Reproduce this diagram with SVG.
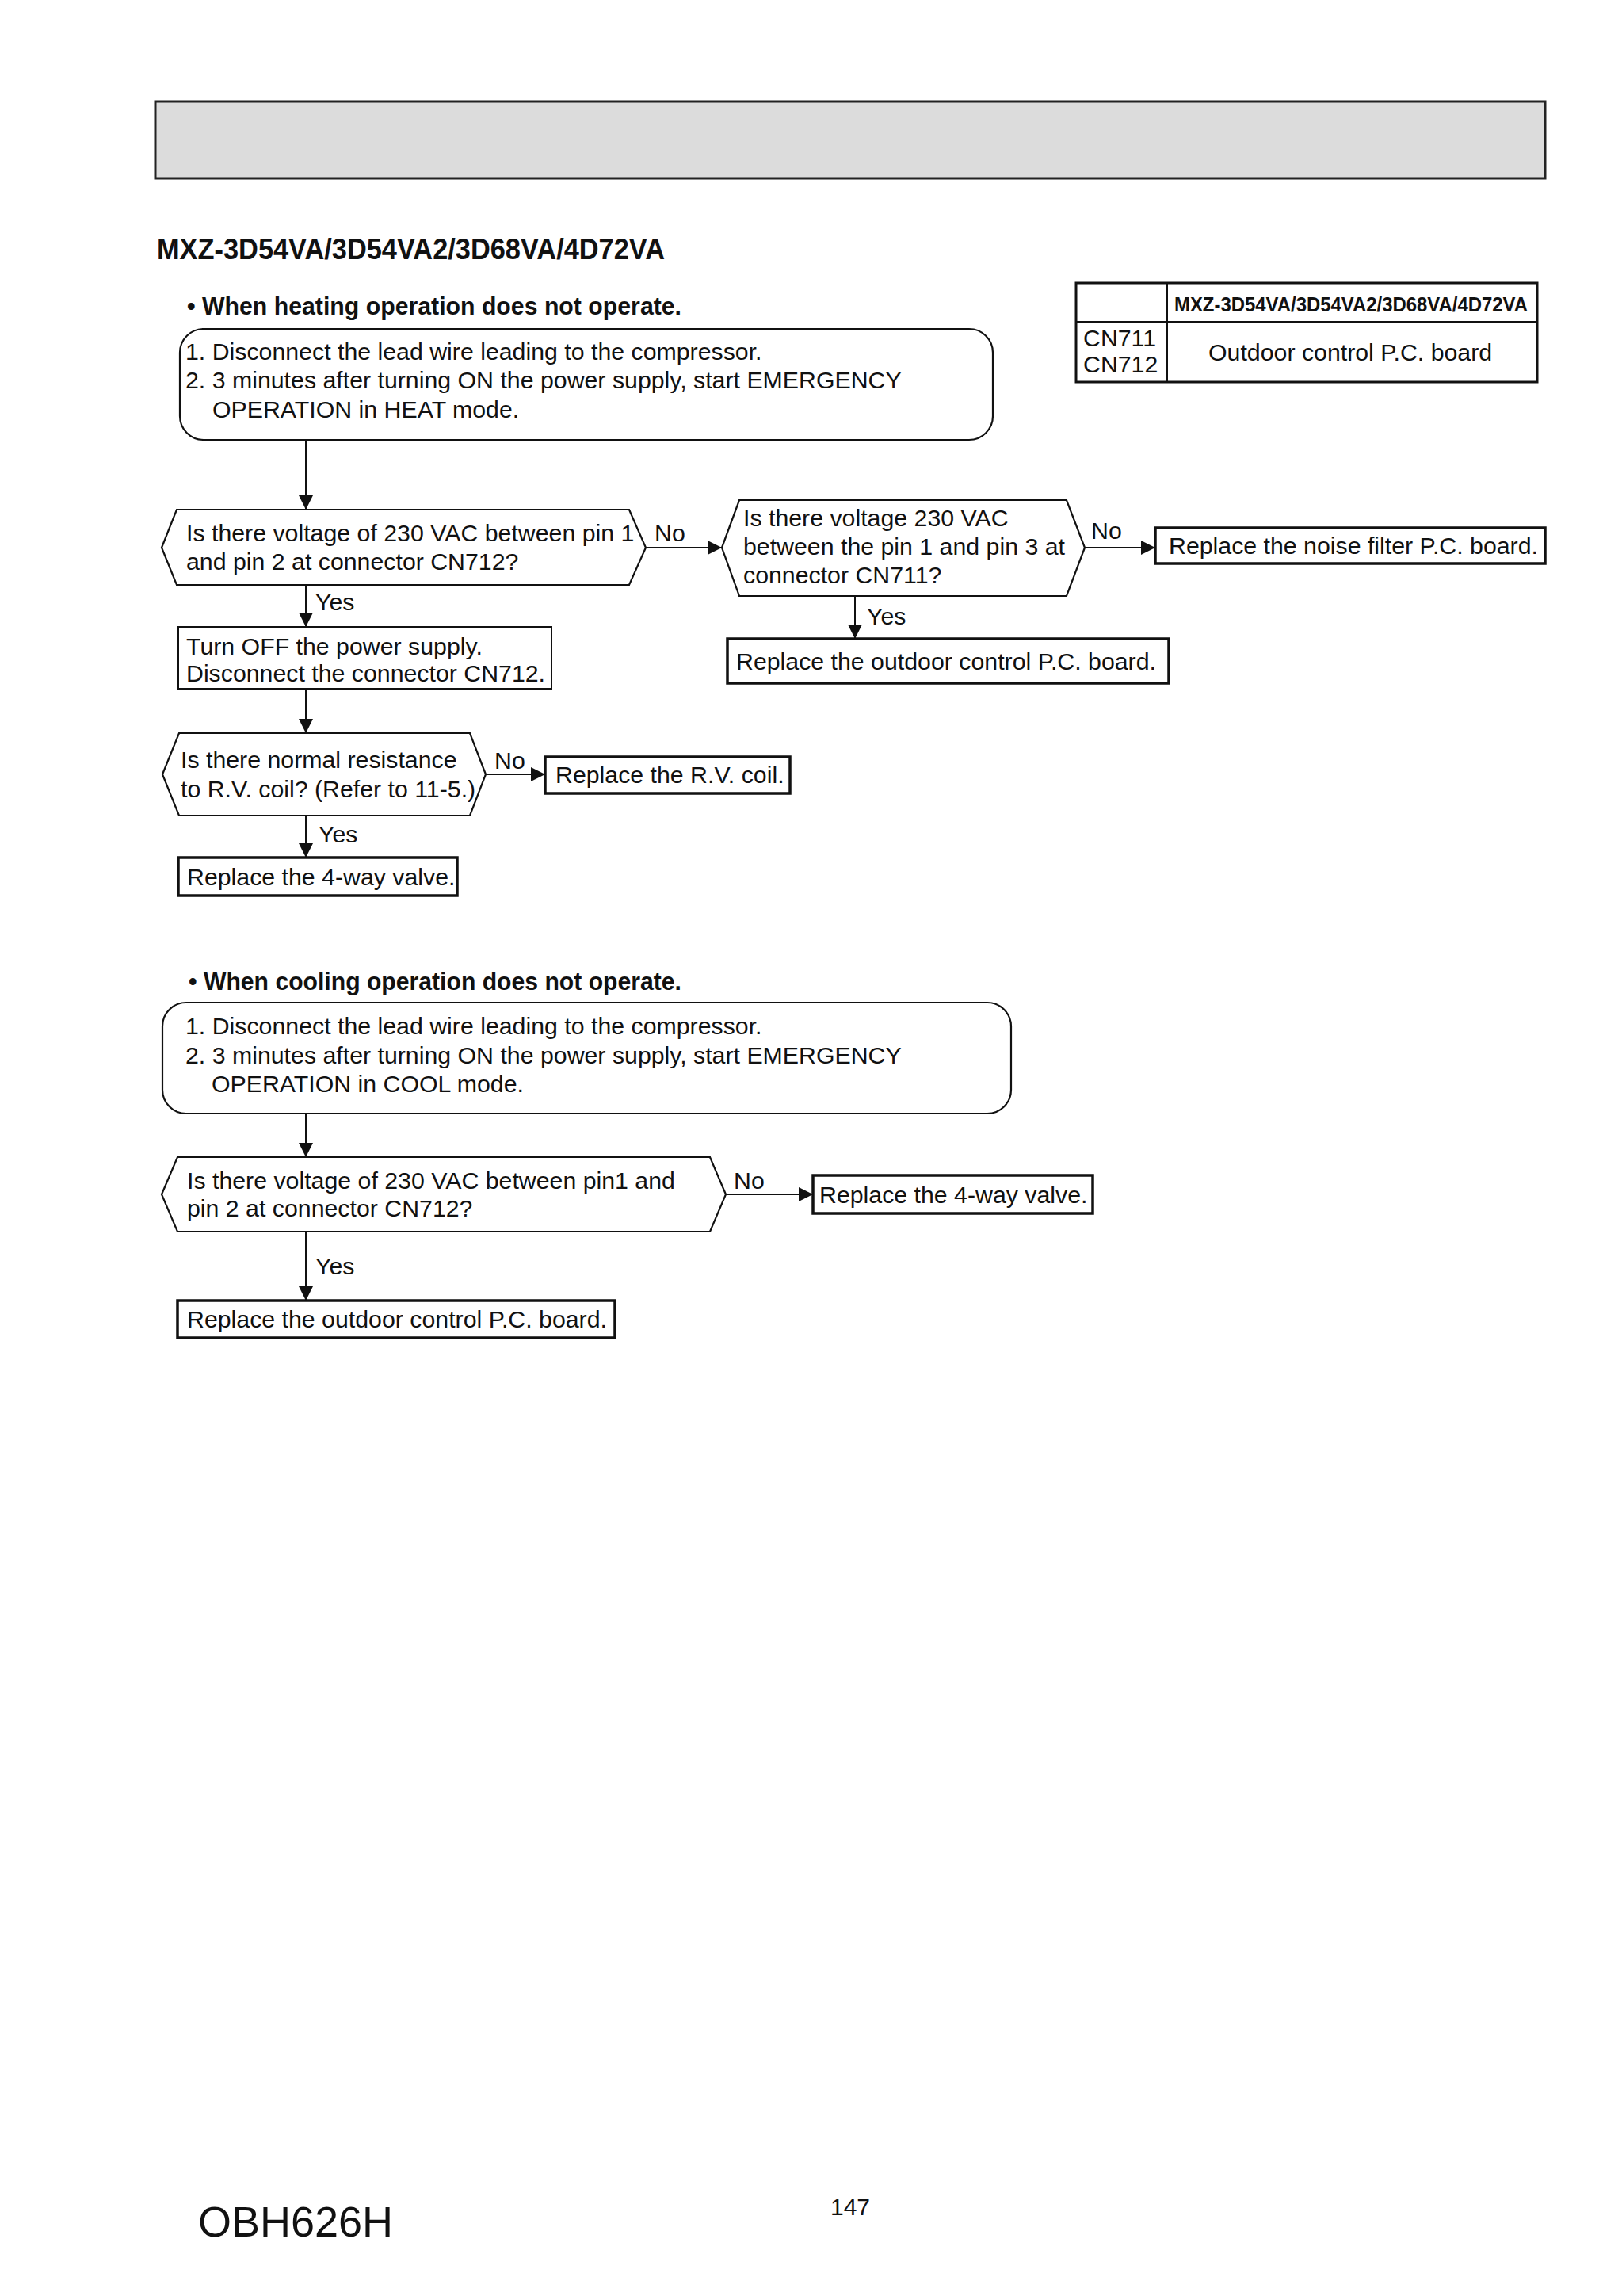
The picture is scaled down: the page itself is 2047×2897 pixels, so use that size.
<svg xmlns="http://www.w3.org/2000/svg" width="2047" height="2897" viewBox="0 0 2047 2897">
<style>
.t{font-family:"Liberation Sans",Arial,sans-serif;font-size:30.3px;fill:#111}
.b{font-family:"Liberation Sans",Arial,sans-serif;font-weight:bold;fill:#111}
.shape{fill:#fff;stroke:#111;stroke-width:2.2}
.box{fill:#fff;stroke:#111;stroke-width:2}
.rep{fill:#fff;stroke:#111;stroke-width:3.5}
.conn{fill:none;stroke:#111;stroke-width:2}
</style>
<defs>
<marker id="arr" markerUnits="userSpaceOnUse" markerWidth="18" markerHeight="18" refX="18" refY="9" orient="auto">
<path d="M0,0 L18,9 L0,18 z" fill="#111"/>
</marker>
</defs>
<rect width="2047" height="2897" fill="#fff"/>
<g id="header">
<rect x="196" y="128" width="1754" height="97" fill="#dcdcdc" stroke="#222" stroke-width="3"/>
</g>
<text class="b" x="198" y="327" font-size="36" textLength="641" lengthAdjust="spacingAndGlyphs">MXZ-3D54VA/3D54VA2/3D68VA/4D72VA</text>
<g id="table">
<rect x="1358" y="357" width="582" height="125" fill="#fff" stroke="#111" stroke-width="3"/>
<line x1="1473" y1="357" x2="1473" y2="482" stroke="#111" stroke-width="2"/>
<line x1="1358" y1="406" x2="1940" y2="406" stroke="#111" stroke-width="2"/>
<text class="b" x="1482" y="393" font-size="26" textLength="446" lengthAdjust="spacingAndGlyphs">MXZ-3D54VA/3D54VA2/3D68VA/4D72VA</text>
<text class="t" x="1367" y="437">CN711</text>
<text class="t" x="1367" y="470">CN712</text>
<text class="t" x="1525" y="455">Outdoor control P.C. board</text>
</g>
<text class="b" x="236" y="397" font-size="32" textLength="624" lengthAdjust="spacingAndGlyphs">• When heating operation does not operate.</text>
<g id="heat_start">
<rect class="shape" x="227" y="415" width="1026" height="140" rx="30" ry="30"/>
<text class="t" x="234" y="454">1. Disconnect the lead wire leading to the compressor.</text>
<text class="t" x="234" y="490">2. 3 minutes after turning ON the power supply, start EMERGENCY</text>
<text class="t" x="268" y="527">OPERATION in HEAT mode.</text>
</g>
<g id="q1">
<polygon class="shape" points="204,691 223,643 794,643 815,691 794,738 223,738"/>
<text class="t" x="235" y="683">Is there voltage of 230 VAC between pin 1</text>
<text class="t" x="235" y="719">and pin 2 at connector CN712?</text>
</g>
<g id="q2">
<polygon class="shape" points="911,691 933,631 1346,631 1369,691 1346,752 933,752"/>
<text class="t" x="938" y="664">Is there voltage 230 VAC</text>
<text class="t" x="938" y="700">between the pin 1 and pin 3 at</text>
<text class="t" x="938" y="736">connector CN711?</text>
</g>
<g id="noise">
<rect class="rep" x="1458" y="666" width="492" height="45"/>
<text class="t" x="1475" y="699">Replace the noise filter P.C. board.</text>
</g>
<g id="outdoor1">
<rect class="rep" x="918" y="806" width="557" height="56"/>
<text class="t" x="929" y="845">Replace the outdoor control P.C. board.</text>
</g>
<g id="turnoff">
<rect class="box" x="225" y="791" width="471" height="78"/>
<text class="t" x="235" y="826">Turn OFF the power supply.</text>
<text class="t" x="235" y="860">Disconnect the connector CN712.</text>
</g>
<g id="q3">
<polygon class="shape" points="205,977 226,925 593,925 613,977 593,1029 226,1029"/>
<text class="t" x="228" y="969">Is there normal resistance</text>
<text class="t" x="228" y="1006">to R.V. coil? (Refer to 11-5.)</text>
</g>
<g id="rvcoil">
<rect class="rep" x="688" y="955" width="309" height="46"/>
<text class="t" x="701" y="988">Replace the R.V. coil.</text>
</g>
<g id="valve1">
<rect class="rep" x="225" y="1082" width="352" height="48"/>
<text class="t" x="236" y="1117">Replace the 4-way valve.</text>
</g>
<text class="b" x="238" y="1249" font-size="32" textLength="622" lengthAdjust="spacingAndGlyphs">• When cooling operation does not operate.</text>
<g id="cool_start">
<rect class="shape" x="205" y="1265" width="1071" height="140" rx="30" ry="30"/>
<text class="t" x="234" y="1305">1. Disconnect the lead wire leading to the compressor.</text>
<text class="t" x="234" y="1342">2. 3 minutes after turning ON the power supply, start EMERGENCY</text>
<text class="t" x="267" y="1378">OPERATION in COOL mode.</text>
</g>
<g id="q4">
<polygon class="shape" points="204,1507 224,1460 896,1460 916,1507 896,1554 224,1554"/>
<text class="t" x="236" y="1500">Is there voltage of 230 VAC between pin1 and</text>
<text class="t" x="236" y="1535">pin 2 at connector CN712?</text>
</g>
<g id="valve2">
<rect class="rep" x="1026" y="1483" width="353" height="48"/>
<text class="t" x="1034" y="1518">Replace the 4-way valve.</text>
</g>
<g id="outdoor2">
<rect class="rep" x="224" y="1641" width="552" height="47"/>
<text class="t" x="236" y="1675">Replace the outdoor control P.C. board.</text>
</g>
<g id="connectors">
<line class="conn" x1="386" y1="555" x2="386" y2="643" marker-end="url(#arr)"/>
<line class="conn" x1="815" y1="691" x2="911" y2="691" marker-end="url(#arr)"/>
<line class="conn" x1="1369" y1="691" x2="1458" y2="691" marker-end="url(#arr)"/>
<line class="conn" x1="1079" y1="752" x2="1079" y2="806" marker-end="url(#arr)"/>
<line class="conn" x1="386" y1="738" x2="386" y2="791" marker-end="url(#arr)"/>
<line class="conn" x1="386" y1="869" x2="386" y2="925" marker-end="url(#arr)"/>
<line class="conn" x1="613" y1="977" x2="688" y2="977" marker-end="url(#arr)"/>
<line class="conn" x1="386" y1="1029" x2="386" y2="1082" marker-end="url(#arr)"/>
<line class="conn" x1="386" y1="1405" x2="386" y2="1460" marker-end="url(#arr)"/>
<line class="conn" x1="916" y1="1507" x2="1026" y2="1507" marker-end="url(#arr)"/>
<line class="conn" x1="386" y1="1554" x2="386" y2="1641" marker-end="url(#arr)"/>
<text class="t" x="826" y="683">No</text>
<text class="t" x="1377" y="680">No</text>
<text class="t" x="1094" y="788">Yes</text>
<text class="t" x="398" y="770">Yes</text>
<text class="t" x="624" y="970">No</text>
<text class="t" x="402" y="1063">Yes</text>
<text class="t" x="926" y="1500">No</text>
<text class="t" x="398" y="1608">Yes</text>
</g>
<text class="t" x="250" y="2822" style="font-size:54px">OBH626H</text>
<text class="t" x="1048" y="2795" style="font-size:30px">147</text>
</svg>
